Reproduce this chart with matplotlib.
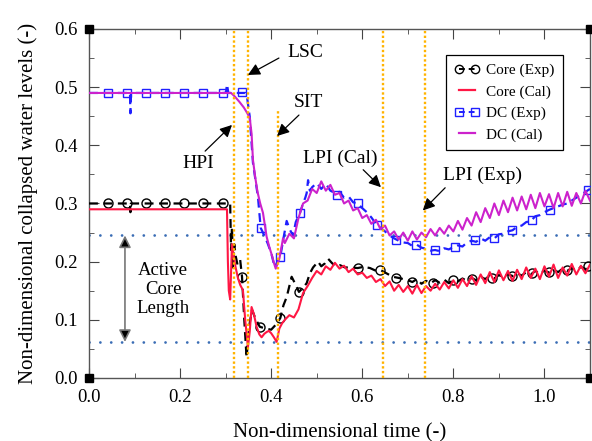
import numpy as np
import matplotlib.pyplot as plt
from matplotlib.lines import Line2D

plt.rcParams['font.family'] = ['Liberation Serif', 'DejaVu Serif']

# ---- data ----
# Core (Exp): dense line, then 0.70..1.10 in 0.01 steps
core_exp_t = [0.0, 0.090, 0.091, 0.092, 0.093, 0.305, 0.310, 0.312, 0.314, 0.316,
              0.319, 0.322, 0.326, 0.332, 0.336, 0.341, 0.346, 0.352, 0.358, 0.365,
              0.375, 0.388, 0.400, 0.413, 0.420, 0.427, 0.434, 0.445, 0.452, 0.461,
              0.470, 0.478, 0.485, 0.492, 0.503, 0.510, 0.518, 0.525, 0.533, 0.541,
              0.551, 0.562, 0.573, 0.590, 0.603, 0.617, 0.628, 0.639, 0.653, 0.667,
              0.680, 0.690]
core_exp_v = [0.300, 0.300, 0.285, 0.300, 0.300, 0.300, 0.300, 0.220, 0.260, 0.190,
              0.230, 0.210, 0.195, 0.203, 0.174, 0.100, 0.035, 0.090, 0.117, 0.103,
              0.088, 0.085, 0.083, 0.094, 0.103, 0.125, 0.139, 0.174, 0.163, 0.148,
              0.155, 0.163, 0.180, 0.190, 0.200, 0.192, 0.197, 0.205, 0.198, 0.192,
              0.194, 0.190, 0.190, 0.189, 0.191, 0.189, 0.185, 0.186, 0.180, 0.174,
              0.172, 0.170]
core_exp_tail = [0.168, 0.165, 0.170, 0.162, 0.167, 0.163, 0.168, 0.164, 0.169, 0.163,
                 0.168, 0.166, 0.171, 0.167, 0.172, 0.168, 0.174, 0.170, 0.176, 0.171,
                 0.177, 0.173, 0.179, 0.175, 0.180, 0.176, 0.182, 0.178, 0.184, 0.179,
                 0.185, 0.181, 0.186, 0.182, 0.188, 0.184, 0.189, 0.185, 0.191, 0.187,
                 0.192]
core_mark_t = [0.042, 0.083, 0.125, 0.167, 0.209, 0.250, 0.294, 0.336, 0.375, 0.420,
               0.461, 0.590, 0.639, 0.675, 0.710, 0.755, 0.800, 0.840, 0.885, 0.929,
               0.972, 1.010, 1.050, 1.095]
core_mark_v = [0.300, 0.300, 0.300, 0.300, 0.300, 0.300, 0.300, 0.174, 0.088, 0.103,
               0.148, 0.189, 0.186, 0.172, 0.165, 0.163, 0.168, 0.170, 0.172, 0.176,
               0.180, 0.183, 0.185, 0.192]

# Core (Cal): dense head, then 0.43..1.10 in 0.01 steps
core_cal_t = [0.0, 0.303, 0.305, 0.307, 0.310, 0.314, 0.318, 0.322, 0.327, 0.332,
              0.338, 0.343, 0.349, 0.353, 0.357, 0.362, 0.368, 0.374, 0.379, 0.385,
              0.390, 0.395, 0.400, 0.406, 0.412, 0.418, 0.424]
core_cal_v = [0.290, 0.290, 0.200, 0.150, 0.135, 0.230, 0.208, 0.190, 0.172, 0.160,
              0.151, 0.100, 0.053, 0.080, 0.122, 0.110, 0.088, 0.075, 0.070, 0.076,
              0.079, 0.081, 0.077, 0.070, 0.062, 0.085, 0.094]
core_cal_tail = [0.100, 0.108, 0.104, 0.118, 0.146, 0.158, 0.172, 0.184, 0.178, 0.192,
                 0.186, 0.198, 0.188, 0.193, 0.182, 0.188, 0.178, 0.181, 0.172, 0.176,
                 0.165, 0.170, 0.158, 0.166, 0.150, 0.160, 0.148, 0.158, 0.145, 0.160,
                 0.146, 0.158, 0.150, 0.162, 0.152, 0.165, 0.154, 0.168, 0.155, 0.170,
                 0.158, 0.175, 0.160, 0.178, 0.163, 0.182, 0.165, 0.185, 0.168, 0.184,
                 0.167, 0.186, 0.170, 0.190, 0.172, 0.188, 0.170, 0.192, 0.174, 0.195,
                 0.172, 0.190, 0.176, 0.196, 0.178, 0.193, 0.180, 0.195]

# DC (Exp): dense head, then 0.49..1.10 in 0.01 steps
dc_exp_t = [0.0, 0.090, 0.091, 0.092, 0.093, 0.298, 0.301, 0.303, 0.306, 0.320,
            0.336, 0.344, 0.347, 0.353, 0.360, 0.371, 0.377, 0.385, 0.392, 0.400,
            0.408, 0.415, 0.420, 0.427, 0.434, 0.441, 0.448, 0.454, 0.459, 0.463,
            0.470, 0.475, 0.478, 0.481, 0.485]
dc_exp_v = [0.490, 0.490, 0.455, 0.490, 0.490, 0.490, 0.492, 0.505, 0.490, 0.490,
            0.490, 0.490, 0.483, 0.449, 0.370, 0.311, 0.258, 0.245, 0.232, 0.215,
            0.190, 0.203, 0.208, 0.240, 0.270, 0.255, 0.245, 0.268, 0.277, 0.283,
            0.300, 0.310, 0.318, 0.340, 0.322]
dc_exp_tail = [0.328, 0.335, 0.325, 0.334, 0.322, 0.318, 0.320, 0.310, 0.312, 0.302,
               0.300, 0.292, 0.285, 0.276, 0.265, 0.258, 0.252, 0.245, 0.240, 0.236,
               0.233, 0.232, 0.227, 0.229, 0.224, 0.222, 0.219, 0.220, 0.218, 0.223,
               0.221, 0.225, 0.228, 0.226, 0.233, 0.236, 0.234, 0.240, 0.236, 0.242,
               0.240, 0.247, 0.248, 0.252, 0.254, 0.260, 0.262, 0.268, 0.270, 0.278,
               0.280, 0.285, 0.289, 0.292, 0.295, 0.298, 0.300, 0.305, 0.310, 0.315,
               0.320, 0.325]
dc_mark_t = [0.042, 0.083, 0.125, 0.167, 0.209, 0.250, 0.294, 0.336, 0.377, 0.420,
             0.463, 0.544, 0.590, 0.632, 0.675, 0.717, 0.760, 0.804, 0.847, 0.890,
             0.929, 0.972, 1.012, 1.095]
dc_mark_v = [0.490, 0.490, 0.490, 0.490, 0.490, 0.490, 0.490, 0.492, 0.258, 0.208,
             0.283, 0.315, 0.300, 0.263, 0.237, 0.228, 0.220, 0.225, 0.237, 0.240,
             0.254, 0.272, 0.289, 0.323]

# DC (Cal): dense head, then 0.43..1.10 in 0.01 steps
dc_cal_t = [0.0, 0.312, 0.320, 0.330, 0.340, 0.347, 0.353, 0.357, 0.360, 0.365,
            0.370, 0.376, 0.382, 0.390, 0.396, 0.402, 0.406, 0.410, 0.414, 0.418,
            0.422, 0.426]
dc_cal_v = [0.490, 0.490, 0.484, 0.475, 0.465, 0.456, 0.447, 0.420, 0.375, 0.345,
            0.320, 0.300, 0.284, 0.243, 0.225, 0.210, 0.198, 0.188, 0.196, 0.205,
            0.222, 0.240]
dc_cal_tail = [0.232, 0.248, 0.240, 0.275, 0.300, 0.305, 0.325, 0.318, 0.338, 0.322,
               0.332, 0.315, 0.318, 0.300, 0.305, 0.288, 0.292, 0.275, 0.280, 0.265,
               0.272, 0.256, 0.262, 0.245, 0.252, 0.238, 0.250, 0.236, 0.252, 0.238,
               0.250, 0.242, 0.256, 0.245, 0.258, 0.248, 0.262, 0.252, 0.270, 0.255,
               0.275, 0.262, 0.285, 0.268, 0.292, 0.275, 0.300, 0.280, 0.305, 0.285,
               0.310, 0.288, 0.312, 0.290, 0.315, 0.292, 0.318, 0.295, 0.316, 0.292,
               0.318, 0.295, 0.320, 0.296, 0.318, 0.300, 0.322, 0.305]

# events and reference levels
events = {'HPI': 0.319, 'LSC': 0.349, 'SIT': 0.415, 'LPI (Cal)': 0.645, 'LPI (Exp)': 0.737}
event_top = {'HPI': 0.6, 'LSC': 0.6, 'SIT': 0.462, 'LPI (Cal)': 0.6, 'LPI (Exp)': 0.6}
core_top, core_bottom = 0.245, 0.062

# ---- assemble series ----
t_ce = np.concatenate([core_exp_t, np.linspace(0.70, 1.10, 41)])
v_ce = np.concatenate([core_exp_v, core_exp_tail])
t_cc = np.concatenate([core_cal_t, np.linspace(0.43, 1.10, 68)])
v_cc = np.concatenate([core_cal_v, core_cal_tail])
t_de = np.concatenate([dc_exp_t, np.linspace(0.49, 1.10, 62)])
v_de = np.concatenate([dc_exp_v, dc_exp_tail])
t_dc = np.concatenate([dc_cal_t, np.linspace(0.43, 1.10, 68)])
v_dc = np.concatenate([dc_cal_v, dc_cal_tail])

fig = plt.figure(figsize=(5.92, 4.41), dpi=100)
ax = fig.add_axes([0.1503, 0.1429, 0.8463, 0.7914])

red = '#ff1744'
mag = '#cc22cc'
blue = '#1f1fff'
orange = '#ffb300'
dotblue = '#3a6db5'

# reference levels
for lv in (core_top, core_bottom):
    ax.plot([0, 1.1], [lv, lv], color=dotblue, lw=2.0, ls=(0, (0.01, 3.9)),
            dash_capstyle='round', zorder=1)

ax.plot(t_de, v_de, color=blue, lw=1.6, ls=(0, (4, 2.5)), zorder=3)
ax.plot(dc_mark_t, dc_mark_v, 's', mfc='none', mec=blue, ms=6, mew=1.0, zorder=3)
ax.plot(t_ce, v_ce, color='k', lw=1.6, ls=(0, (4, 2.5)), zorder=3)
ax.plot(core_mark_t, core_mark_v, 'o', mfc='none', mec='k', ms=6.5, mew=1.0, zorder=3)
ax.plot(t_dc, v_dc, color=mag, lw=1.5, zorder=4)
ax.plot(t_cc, v_cc, color=red, lw=1.5, zorder=4)

for name, x in events.items():
    ax.plot([x, x], [0, event_top[name]], color=orange, lw=1.7,
            ls=(0, (1.0, 1.0)), zorder=5)

# annotations: (text position, arrow tail, arrow tip)
notes = [
    ('LSC', (0.475, 0.560), (0.417, 0.550), (0.349, 0.521)),
    ('SIT', (0.481, 0.473), (0.461, 0.452), (0.413, 0.416)),
    ('HPI', (0.239, 0.368), (0.255, 0.390), (0.314, 0.435)),
    ('LPI (Cal)', (0.551, 0.378), (0.602, 0.358), (0.641, 0.328)),
    ('LPI (Exp)', (0.865, 0.349), (0.782, 0.327), (0.733, 0.288)),
]
for txt, pos, tail, tip in notes:
    ax.text(pos[0], pos[1], txt, fontsize=14, ha='center', va='center', zorder=6)
    ax.annotate('', xy=tip, xytext=tail,
                arrowprops=dict(arrowstyle='-|>,head_length=0.6,head_width=0.3',
                                color='k', lw=0.9, mutation_scale=12,
                                shrinkA=0, shrinkB=0), zorder=6)

ax.annotate('', xy=(0.079, core_bottom), xytext=(0.079, core_top),
            arrowprops=dict(arrowstyle='<|-|>,head_length=0.6,head_width=0.3',
                            edgecolor='#777777', facecolor='k', lw=1.2,
                            mutation_scale=12, shrinkA=0, shrinkB=0))
ax.text(0.163, 0.152, 'Active\nCore\nLength', fontsize=13.5, ha='center',
        va='center', linespacing=1.15)

# axes cosmetics
ax.set_xlim(0, 1.1)
ax.set_ylim(0, 0.6)
ax.set_xticks(np.arange(0, 1.01, 0.2))
ax.set_xticks(np.arange(0, 1.11, 0.1), minor=True)
ax.set_yticks(np.arange(0, 0.61, 0.1))
ax.set_yticks(np.arange(0, 0.61, 0.05), minor=True)
ax.xaxis.set_major_formatter(plt.FormatStrFormatter('%.1f'))
ax.yaxis.set_major_formatter(plt.FormatStrFormatter('%.1f'))
ax.tick_params(which='both', direction='in', top=True, right=True,
               labelsize=13.5, color='#444444')
ax.tick_params(which='major', length=7, pad=8)
ax.tick_params(which='minor', length=3.5)
for s in ax.spines.values():
    s.set_color('#555555')
    s.set_linewidth(1.0)
ax.plot([0, 1, 0, 1], [0, 0, 1, 1], 's', color='k', ms=6,
        transform=ax.transAxes, clip_on=False, zorder=10)

ax.set_xlabel('Non-dimensional time (-)', fontsize=15, labelpad=12)
ax.set_ylabel('Non-dimensional collapsed water levels (-)', fontsize=15, labelpad=12)

handles = [
    Line2D([], [], color='k', lw=1.4, ls=(0, (3, 2)), marker='o', mfc='none', ms=6),
    Line2D([], [], color=red, lw=1.6),
    Line2D([], [], color=blue, lw=1.4, ls=(0, (3, 2)), marker='s', mfc='none', ms=6),
    Line2D([], [], color=mag, lw=1.6),
]
labels = ['Core (Exp)', 'Core (Cal)', 'DC (Exp)', 'DC (Cal)']
leg = ax.legend(handles, labels, loc='upper right', bbox_to_anchor=(0.946, 0.925),
                fontsize=11, numpoints=2, handlelength=1.7, handletextpad=0.4,
                fancybox=False, framealpha=1, edgecolor='k', labelspacing=0.5,
                borderpad=0.55, borderaxespad=0)
leg.get_frame().set_linewidth(0.9)

fig.savefig('out.png', dpi=100)
